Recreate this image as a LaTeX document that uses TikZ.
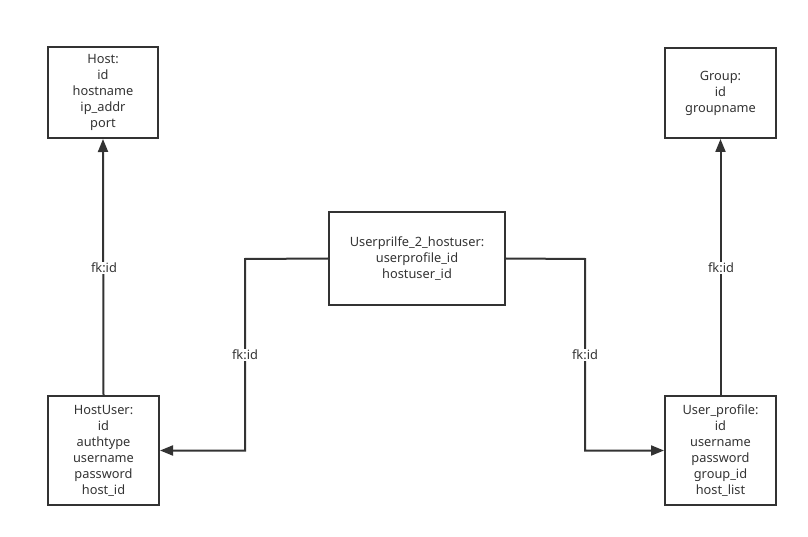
\documentclass[tikz,border=0pt]{standalone}
\usepackage{fontspec}
\setmainfont{Noto Sans}
\usetikzlibrary{arrows.meta}
\begin{document}
\begin{tikzpicture}[x=1pt,y=-1pt,
  tbl/.style={draw=black!80, line width=2pt, align=center, inner sep=0pt,
    font=\fontsize{12.8}{16}\selectfont, text=black!80},
  conn/.style={draw=black!80, line width=2pt, -{Triangle[width=10pt,length=13pt]}},
  lbl/.style={fill=white, inner sep=1pt, font=\fontsize{12.8}{14}\selectfont, text=black!80}]
\useasboundingbox (0,0) rectangle (808,537);
\node[tbl, minimum width=110pt, minimum height=91pt] (host) at (103,92.5)
  {Host:\\id\\hostname\\ip\_addr\\port};
\node[tbl, minimum width=111pt, minimum height=109pt] (hostuser) at (103.5,450.5)
  {HostUser:\\id\\authtype\\username\\password\\host\_id};
\node[tbl, minimum width=176pt, minimum height=93pt] (mid) at (417,258.5)
  {Userprilfe\_2\_hostuser:\\userprofile\_id\\hostuser\_id};
\node[tbl, minimum width=111pt, minimum height=90pt] (group) at (720.5,93)
  {Group:\\id\\groupname};
\node[tbl, minimum width=111pt, minimum height=109pt] (uprof) at (720.5,450.5)
  {User\_profile:\\id\\username\\password\\group\_id\\host\_list};
\coordinate (lb) at (245,259);
\coordinate (rb) at (585,259);
\draw[conn] (hostuser.north) -- (host.south);
\draw[conn] (uprof.north) -- (group.south);
\draw[conn] (mid.west) -- (lb) |- (hostuser.east);
\draw[conn] (mid.east) -- (rb) |- (uprof.west);
\node[lbl] (l1) at (104,268) {fk:id};
\node[lbl] (l2) at (721,268) {fk:id};
\node[lbl] (l3) at (245,355) {fk:id};
\node[lbl] (l4) at (585,355) {fk:id};
\end{tikzpicture}
\end{document}
